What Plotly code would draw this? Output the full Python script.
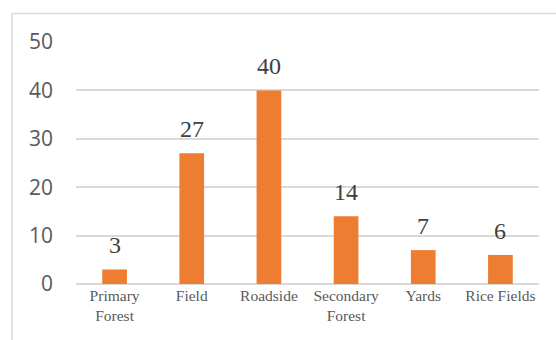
import plotly.graph_objects as go

categories = ["Primary<br>Forest", "Field", "Roadside", "Secondary<br>Forest", "Yards", "Rice Fields"]
values = [3, 27, 40, 14, 7, 6]
y_ticks = [0, 10, 20, 30, 40, 50]

BAR = "#ED7D31"
GRID = "#d9d9d9"
SERIF = "Liberation Serif"

fig = go.Figure(go.Bar(x=categories, y=values, marker=dict(color=BAR, line=dict(width=0)),
                       width=0.32, hoverinfo="skip"))

for c, v in zip(categories, values):
    fig.add_annotation(x=c, y=v, text=str(v), showarrow=False, yanchor="bottom", yshift=9,
                       font=dict(family=SERIF, size=24, color="#404040"))

L, R, T, B = 76, 556 - 539, 42, 340 - 284
W, H = 556 - L - R, 340 - T - B
bx = (12 - L) / W
by = (284 - 13.5) / H
fig.add_shape(type="line", xref="paper", yref="paper", x0=bx, x1=(556 - L) / W + 0.01, y0=by, y1=by,
              line=dict(color=GRID, width=1.5))
fig.add_shape(type="line", xref="paper", yref="paper", x0=bx, x1=bx, y0=by, y1=-0.3,
              line=dict(color=GRID, width=1.5))

fig.update_layout(
    width=556, height=340, margin=dict(l=L, r=R, t=T, b=B),
    paper_bgcolor="white", plot_bgcolor="white", showlegend=False,
    xaxis=dict(type="category", showgrid=False, showline=False, ticks="",
               tickfont=dict(family=SERIF, size=15.5, color="#595959"), tickangle=0),
    yaxis=dict(range=[0, 50], tickvals=y_ticks, showgrid=True, gridcolor=GRID, gridwidth=1.5,
               zeroline=True, zerolinecolor=GRID, zerolinewidth=1.5, showline=False, ticks="",
               ticklabelstandoff=22,
               tickfont=dict(family="Open Sans", size=21, color="#595959")),
)
fig.write_html("out.html")
